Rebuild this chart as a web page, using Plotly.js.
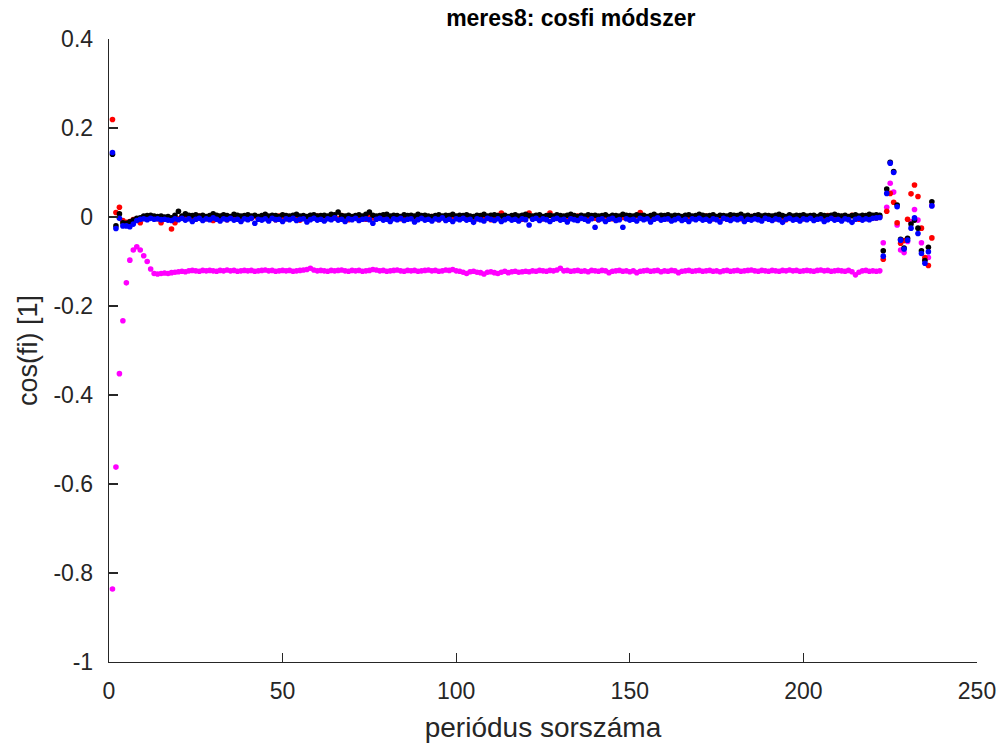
<!DOCTYPE html>
<html>
<head>
<meta charset="utf-8">
<script src="https://cdn.plot.ly/plotly-3.0.1.min.js"></script>
<style>html,body{margin:0;padding:0;background:#fff;}#chart{width:1003px;height:745px;}</style>
</head>
<body>
<div id="chart"></div>
<script>
// Period index 1..237
const periods = [];
for (let i = 1; i <= 237; i++) periods.push(i);

const seriesRed = [
 0.219, 0.010, 0.022, -0.008, -0.012, -0.010, -0.006, -0.004, -0.013, -0.003,
 -0.001, 0.000, -0.002, -0.004, -0.013, -0.003, -0.001, -0.027, -0.013, -0.004,
 -0.002, 0.001, -0.003, -0.001, -0.005, 0.002, -0.002, -0.004, -0.001, -0.008,
 -0.002, 0.001, -0.003, -0.006, -0.001, 0.002, -0.004, -0.008, -0.002, 0.000,
 -0.003, 0.001, -0.002, -0.005, 0.000, -0.003, -0.001, -0.006, 0.002, -0.002,
 -0.004, -0.001, 0.001, -0.003, -0.007, -0.002, 0.000, -0.004, -0.001, 0.002,
 -0.003, -0.005, -0.001, 0.001, -0.002, -0.004, 0.003, -0.001, -0.006, -0.002,
 0.000, -0.003, -0.001, -0.005, 0.002, -0.002, -0.004, 0.001, -0.003, -0.001,
 -0.006, -0.002, 0.001, -0.004, -0.001, 0.002, -0.003, -0.005, -0.001, 0.000,
 -0.002, -0.004, 0.001, -0.003, -0.006, -0.001, 0.002, -0.002, -0.004, 0.000,
 -0.003, -0.001, -0.005, 0.001, -0.002, -0.004, 0.000, -0.003, -0.001, -0.006,
 -0.002, 0.003, 0.009, -0.004, -0.001, -0.003, 0.002, -0.002, -0.005, 0.000,
 0.009, -0.003, -0.001, 0.002, -0.004, -0.002, 0.009, -0.001, -0.003, 0.001,
 -0.005, -0.002, 0.000, -0.003, 0.002, -0.001, -0.004, -0.002, 0.001, -0.003,
 -0.006, -0.001, 0.002, -0.002, -0.004, 0.000, -0.003, -0.001, 0.001, -0.005,
 -0.002, 0.003, 0.010, -0.003, -0.001, -0.004, 0.001, -0.002, -0.003, 0.000,
 -0.004, -0.001, 0.002, -0.003, -0.005, -0.001, 0.001, -0.002, -0.004, 0.000,
 -0.003, 0.002, -0.001, -0.004, -0.002, 0.001, -0.003, -0.005, -0.001, 0.002,
 -0.002, -0.004, 0.000, -0.003, 0.001, -0.002, -0.005, -0.001, 0.002, -0.003,
 -0.001, -0.004, 0.001, -0.002, -0.006, 0.000, -0.003, 0.002, -0.001, -0.004,
 -0.002, 0.001, -0.003, -0.005, 0.000, -0.002, 0.003, -0.001, -0.004, -0.002,
 0.001, -0.003, -0.001, 0.004, -0.002, -0.005, 0.000, -0.003, 0.002, -0.001,
 -0.002, 0.000,
 -0.095, 0.013, 0.053, 0.033, -0.013, -0.059, -0.053, -0.005, 0.052, 0.072, 0.046, -0.025, -0.091, -0.109, -0.047
];

const seriesBlack = [
 0.141, -0.020, 0.007, -0.013, -0.014, -0.011, -0.007, -0.003, -0.002, 0.002,
 0.003, 0.004, 0.002, 0.001, 0.002, 0.000, 0.001, -0.002, 0.004, 0.013,
 0.002, 0.007, 0.004, 0.003, 0.005, 0.002, 0.004, 0.001, 0.003, 0.007,
 0.004, 0.002, 0.005, 0.003, 0.001, 0.006, 0.004, 0.002, 0.003, 0.005,
 0.002, 0.004, 0.001, 0.003, 0.006, 0.002, 0.004, 0.003, 0.001, 0.005,
 0.003, 0.002, 0.004, 0.006, 0.002, 0.003, 0.001, 0.004, 0.005, 0.002,
 0.003, 0.004, 0.002, 0.006, 0.005, 0.011, 0.003, 0.002, 0.004, 0.001,
 0.003, 0.005, 0.002, 0.006, 0.011, 0.004, 0.002, 0.003, 0.005, 0.006,
 0.002, 0.004, 0.003, 0.001, 0.005, 0.003, 0.004, 0.002, 0.006, 0.003,
 0.004, 0.002, 0.001, 0.003, 0.005, 0.002, 0.004, 0.003, 0.006, 0.002,
 0.004, 0.003, 0.005, 0.002, 0.001, 0.004, 0.003, 0.006, 0.002, 0.004,
 0.005, 0.003, 0.002, 0.004, 0.001, 0.003, 0.005, 0.002, 0.004, 0.006,
 0.003, 0.002, 0.004, 0.005, 0.001, 0.003, 0.004, 0.002, 0.005, 0.003,
 0.002, 0.004, 0.006, 0.003, 0.001, 0.004, 0.002, 0.005, 0.003, 0.004,
 0.002, 0.003, 0.005, 0.001, 0.004, 0.003, 0.002, 0.006, 0.004, 0.003,
 0.002, 0.005, 0.003, 0.004, 0.001, 0.003, 0.006, 0.002, 0.004, 0.003,
 0.005, 0.002, 0.004, 0.003, 0.001, 0.004, 0.005, 0.002, 0.003, 0.006,
 0.004, 0.002, 0.003, 0.005, 0.001, 0.004, 0.003, 0.002, 0.005, 0.004,
 0.003, 0.006, 0.002, 0.004, 0.001, 0.003, 0.005, 0.002, 0.004, 0.003,
 0.002, 0.004, 0.006, 0.003, 0.001, 0.005, 0.002, 0.004, 0.003, 0.005,
 0.002, 0.003, 0.004, 0.001, 0.005, 0.003, 0.002, 0.004, 0.006, 0.003,
 0.002, 0.004, 0.001, 0.003, 0.005, 0.002, 0.004, 0.003, 0.006, 0.004,
 0.005, 0.004,
 -0.076, 0.063, 0.123, 0.102, 0.027, -0.050, -0.070, -0.048, -0.016, -0.007, -0.025, -0.076, -0.098, -0.068, 0.034
];

const seriesBlue = [
 0.145, -0.026, -0.003, -0.020, -0.020, -0.022, -0.016, -0.008, -0.005, -0.004,
 -0.006, -0.003, -0.005, -0.004, -0.006, -0.005, -0.007, -0.008, -0.004, -0.006,
 -0.003, -0.007, -0.004, -0.010, -0.005, -0.003, -0.008, -0.004, -0.006, -0.002,
 -0.005, -0.009, -0.004, -0.006, -0.003, -0.007, -0.005, -0.010, -0.004, -0.006,
 -0.003, -0.014, -0.005, -0.007, -0.004, -0.009, -0.003, -0.006, -0.005, -0.010,
 -0.004, -0.006, -0.003, -0.008, -0.005, -0.004, -0.011, -0.006, -0.003, -0.007,
 -0.005, -0.009, -0.004, -0.006, -0.002, -0.007, -0.005, -0.010, -0.004, -0.006,
 -0.003, -0.008, -0.005, -0.004, -0.006, -0.014, -0.005, -0.003, -0.007, -0.005,
 -0.010, -0.004, -0.006, -0.003, -0.008, -0.005, -0.004, -0.011, -0.006, -0.003,
 -0.007, -0.005, -0.009, -0.004, -0.006, -0.002, -0.008, -0.005, -0.010, -0.004,
 -0.006, -0.003, -0.007, -0.005, -0.012, -0.004, -0.006, -0.009, -0.003, -0.005,
 -0.008, -0.004, -0.010, -0.006, -0.003, -0.007, -0.005, -0.009, -0.004, -0.006,
 -0.018, -0.005, -0.003, -0.008, -0.004, -0.006, -0.010, -0.005, -0.003, -0.007,
 -0.005, -0.011, -0.004, -0.006, -0.008, -0.003, -0.005, -0.009, -0.004, -0.023,
 -0.006, -0.004, -0.010, -0.005, -0.003, -0.008, -0.006, -0.023, -0.004, -0.007,
 -0.005, -0.009, -0.003, -0.006, -0.004, -0.011, -0.005, -0.002, -0.007, -0.005,
 -0.004, -0.009, -0.006, -0.003, -0.008, -0.005, -0.010, -0.004, -0.006, -0.003,
 -0.007, -0.005, -0.009, -0.004, -0.006, -0.011, -0.003, -0.005, -0.008, -0.004,
 -0.006, -0.003, -0.010, -0.005, -0.007, -0.004, -0.006, -0.009, -0.003, -0.005,
 -0.008, -0.004, -0.006, -0.012, -0.005, -0.003, -0.007, -0.005, -0.009, -0.004,
 -0.006, -0.003, -0.008, -0.005, -0.004, -0.010, -0.006, -0.003, -0.007, -0.005,
 -0.009, -0.004, -0.006, -0.012, -0.005, -0.003, -0.007, -0.004, -0.006, -0.003,
 -0.002, -0.001,
 -0.088, 0.053, 0.121, 0.100, 0.023, -0.052, -0.072, -0.052, -0.025, -0.002, -0.037, -0.082, -0.104, -0.078, 0.025
];

const seriesMagenta = [
 -0.836, -0.562, -0.352, -0.233, -0.148, -0.097, -0.074, -0.067, -0.074, -0.087,
 -0.100, -0.117, -0.127, -0.128, -0.127, -0.126, -0.127, -0.125, -0.124, -0.123,
 -0.122, -0.123, -0.121, -0.120, -0.121, -0.122, -0.120, -0.121, -0.120, -0.121,
 -0.122, -0.120, -0.121, -0.119, -0.121, -0.120, -0.122, -0.121, -0.120, -0.121,
 -0.120, -0.122, -0.121, -0.120, -0.119, -0.121, -0.120, -0.122, -0.121, -0.120,
 -0.121, -0.120, -0.122, -0.121, -0.120, -0.119, -0.118, -0.115, -0.119, -0.121,
 -0.120, -0.121, -0.122, -0.120, -0.121, -0.120, -0.119, -0.121, -0.122, -0.120,
 -0.121, -0.120, -0.122, -0.121, -0.120, -0.118, -0.119, -0.121, -0.120, -0.122,
 -0.121, -0.120, -0.119, -0.121, -0.122, -0.120, -0.121, -0.120, -0.122, -0.121,
 -0.120, -0.119, -0.121, -0.120, -0.122, -0.121, -0.119, -0.120, -0.118, -0.121,
 -0.122, -0.124, -0.127, -0.123, -0.122, -0.124, -0.125, -0.128, -0.124, -0.123,
 -0.125, -0.127, -0.124, -0.122, -0.125, -0.123, -0.122, -0.124, -0.123, -0.122,
 -0.123, -0.121, -0.122, -0.120, -0.121, -0.122, -0.120, -0.121, -0.119, -0.115,
 -0.121, -0.120, -0.122, -0.121, -0.120, -0.122, -0.121, -0.123, -0.120, -0.121,
 -0.122, -0.120, -0.121, -0.125, -0.122, -0.121, -0.120, -0.122, -0.121, -0.123,
 -0.121, -0.125, -0.122, -0.121, -0.120, -0.122, -0.121, -0.120, -0.123, -0.121,
 -0.122, -0.120, -0.121, -0.125, -0.122, -0.121, -0.120, -0.122, -0.121, -0.120,
 -0.122, -0.121, -0.120, -0.122, -0.121, -0.123, -0.121, -0.120, -0.122, -0.121,
 -0.120, -0.122, -0.121, -0.120, -0.119, -0.121, -0.122, -0.120, -0.121, -0.122,
 -0.120, -0.121, -0.122, -0.120, -0.121, -0.119, -0.121, -0.120, -0.122, -0.121,
 -0.120, -0.121, -0.122, -0.120, -0.119, -0.121, -0.120, -0.122, -0.121, -0.120,
 -0.121, -0.122, -0.120, -0.123, -0.130, -0.124, -0.121, -0.120, -0.122, -0.121,
 -0.122, -0.121,
 -0.058, 0.022, 0.076, 0.056, -0.018, -0.074, -0.080, -0.055, -0.011, 0.017, -0.007, -0.058, -0.095, -0.091, 0.026
];

const xTickVals = [0, 50, 100, 150, 200, 250];
const xTickText = ['0', '50', '100', '150', '200', '250'];
const yTickVals = [0.4, 0.2, 0, -0.2, -0.4, -0.6, -0.8, -1];
const yTickText = ['0.4', '0.2', '0', '-0.2', '-0.4', '-0.6', '-0.8', '-1'];

const titleText = 'meres8: cosfi módszer';
const xTitle = 'periódus sorszáma';
const yTitle = 'cos(fi) [1]';

const FONT = 'Liberation Sans, Arial, Helvetica, sans-serif';
const AX = '#262626';

function tr(y, color) {
  return {x: periods, y: y, type: 'scatter', mode: 'markers',
    marker: {color: color, size: 5.6, line: {width: 0}}, hoverinfo: 'skip'};
}

const data = [
  tr(seriesMagenta, '#ff00ff'),
  tr(seriesRed, '#ff0000'),
  tr(seriesBlack, '#000000'),
  tr(seriesBlue, '#0000ff')
];

const axisCommon = {
  showgrid: false, zeroline: false, showline: true, linecolor: AX, linewidth: 1.3,
  ticks: 'inside', ticklen: 9, tickwidth: 1.3, tickcolor: AX,
  tickfont: {family: FONT, size: 23, color: AX}, mirror: false
};

const layout = {
  width: 1003, height: 745,
  margin: {l: 109, r: 26, t: 39, b: 83, pad: 0},
  paper_bgcolor: '#ffffff', plot_bgcolor: '#ffffff',
  showlegend: false,
  title: {text: '<b>' + titleText + '</b>', font: {family: FONT, size: 23, color: '#000'},
          x: 0.532, xref: 'paper', xanchor: 'center', y: 0.976, yref: 'container', yanchor: 'middle'},
  xaxis: Object.assign({}, axisCommon, {
    range: [0, 250], tickmode: 'array', tickvals: xTickVals, ticktext: xTickText,
    ticklabelstandoff: 8,
    title: {text: xTitle, font: {family: FONT, size: 28, color: AX}, standoff: 14}
  }),
  yaxis: Object.assign({}, axisCommon, {
    range: [-1, 0.4], tickmode: 'array', tickvals: yTickVals, ticktext: yTickText,
    ticklabelstandoff: 10,
    title: {text: yTitle, font: {family: FONT, size: 27, color: AX}, standoff: 8}
  })
};

Plotly.newPlot('chart', data, layout, {staticPlot: true, displayModeBar: false});
</script>
</body>
</html>
